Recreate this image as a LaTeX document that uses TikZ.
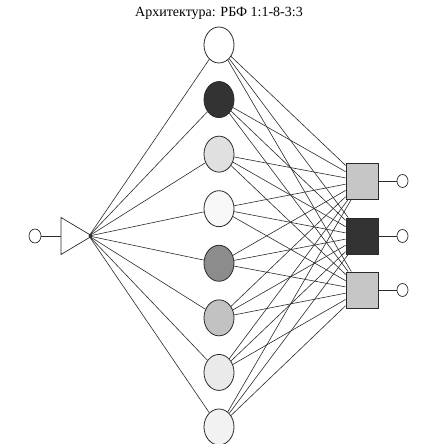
\documentclass[tikz,border=0pt]{standalone}
\usepackage{fontspec}
\setmainfont{Liberation Serif}
\usetikzlibrary{shapes.geometric}
\definecolor{hA}{HTML}{FFFFFF}
\definecolor{hB}{HTML}{333333}
\definecolor{hC}{HTML}{E0E0E0}
\definecolor{hD}{HTML}{F8F8F8}
\definecolor{hE}{HTML}{8C8C8C}
\definecolor{hF}{HTML}{C2C2C2}
\definecolor{hG}{HTML}{EAEAEA}
\definecolor{hH}{HTML}{F2F2F2}
\definecolor{sq}{HTML}{C6C6C6}
\definecolor{edge}{HTML}{2A2A2A}
\tikzset{
  neuron/.style={ellipse, draw=edge, line width=0.8pt, minimum width=30pt, minimum height=36pt, inner sep=0pt},
  outbox/.style={rectangle, draw=edge, line width=0.8pt, minimum width=32pt, minimum height=36pt, inner sep=0pt},
  term/.style={ellipse, draw=edge, line width=0.7pt, fill=white, minimum width=11pt, minimum height=13pt, inner sep=0pt},
  link/.style={draw=edge, line width=0.6pt},
}
\begin{document}
\begin{tikzpicture}[x=1pt,y=1pt]
\useasboundingbox (0,0) rectangle (443,444);
\node[font=\fontsize{14}{16}\selectfont] (title) at (219,431) {Архитектура: РБФ 1:1-8-3:3};
% input
\node[term, minimum width=12pt, minimum height=14pt] (in) at (35,208) {};
\draw[edge, line width=0.7pt, fill=white] (61,226.5) -- (92,208) -- (61,189.5) -- cycle;
\coordinate (tip) at (89,208);
\coordinate (base) at (61,208);
\draw[link] (in) -- (base);
% hidden
\foreach \i/\c in {1/hA,2/hB,3/hC,4/hD,5/hE,6/hF,7/hG,8/hH}{
  \node[neuron, fill=\c] (h\i) at (219, {444-45-(\i-1)*54.57}) {};
}
% outputs
\node[outbox, fill=sq] (o1) at (362,263) {};
\node[outbox, fill=hB] (o2) at (362,208) {};
\node[outbox, fill=sq] (o3) at (362,154) {};
\foreach \j in {1,2,3}{
  \node[term] (t\j) at (402.5,0 |- o\j) {};
  \draw[link] (o\j) -- (t\j);
}
\foreach \i in {1,...,8}{
  \draw[link] (tip) -- (h\i);
  \foreach \j in {1,2,3}{
    \draw[link] (h\i) -- (o\j);
  }
}
\end{tikzpicture}
\end{document}
